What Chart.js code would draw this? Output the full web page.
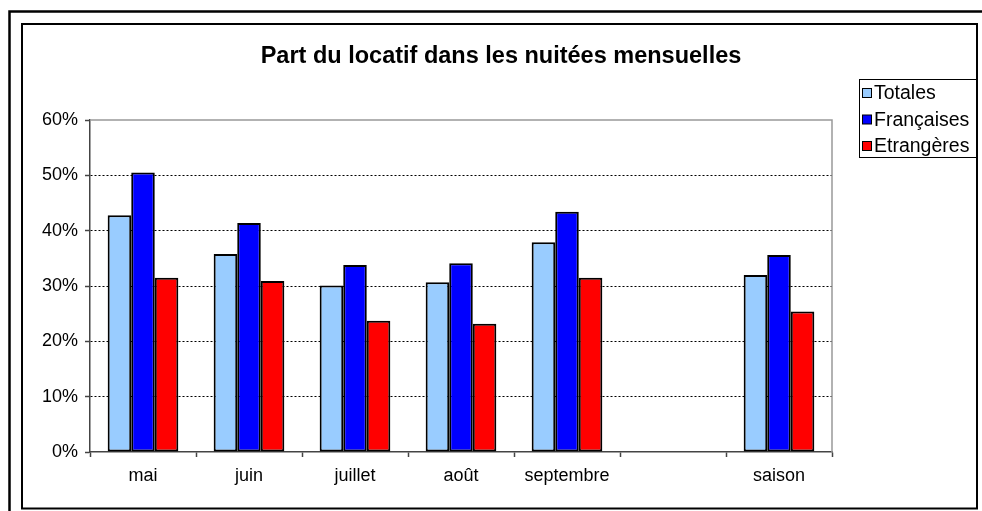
<!DOCTYPE html>
<html>
<head>
<meta charset="utf-8">
<script src="https://cdn.jsdelivr.net/npm/chart.js@4/dist/chart.umd.min.js"></script>
<style>
  body { margin: 0; background: #fff; }
  #wrap { width: 982px; height: 511px; }
</style>
</head>
<body>
<div id="wrap"><canvas id="grafico" width="982" height="511"></canvas></div>
<script>
const titre = "Part du locatif dans les nuitées mensuelles";
const mois = ["mai", "juin", "juillet", "août", "septembre", "", "saison"];
const totales = [42.8, 35.8, 30.1, 30.7, 37.9, null, 32.0];
const francaises = [50.5, 41.4, 33.8, 34.1, 43.4, null, 35.6];
const etrangeres = [31.5, 30.9, 23.7, 23.2, 31.5, null, 25.4];
const graduations = [0, 10, 20, 30, 40, 50, 60];

const police = "'Liberation Sans', Arial, sans-serif";

// cadres, titre et légende façon Excel
const decor = {
  id: 'decor',
  beforeDraw(chart) {
    const ctx = chart.ctx;
    ctx.save();
    ctx.fillStyle = '#fff';
    ctx.fillRect(0, 0, chart.width, chart.height);
    ctx.strokeStyle = '#000';
    ctx.lineWidth = 2.5;
    ctx.strokeRect(9.5, 11.5, 1100, 1100);
    ctx.lineWidth = 2;
    ctx.strokeRect(22, 24, 955, 484.5);
    ctx.restore();
  },
  afterDraw(chart) {
    const ctx = chart.ctx;
    const a = chart.chartArea;
    ctx.save();
    // bord gris du haut et de droite
    ctx.strokeStyle = '#999';
    ctx.lineWidth = 1.5;
    ctx.beginPath();
    ctx.moveTo(a.left, a.top);
    ctx.lineTo(a.right, a.top);
    ctx.lineTo(a.right, a.bottom);
    ctx.stroke();

    // titre
    ctx.fillStyle = '#000';
    ctx.font = "bold 23.5px " + police;
    ctx.textAlign = 'center';
    ctx.textBaseline = 'alphabetic';
    ctx.fillText(titre, 501, 63);

    // légende
    ctx.fillStyle = '#fff';
    ctx.fillRect(859.5, 79.5, 117, 78);
    ctx.strokeStyle = '#000';
    ctx.lineWidth = 1;
    ctx.strokeRect(859.5, 79.5, 117, 78);
    ctx.font = "19.5px " + police;
    ctx.textAlign = 'left';
    ctx.textBaseline = 'middle';
    chart.data.datasets.forEach((ds, i) => {
      const y = 93 + i * 26.5;
      ctx.fillStyle = ds.backgroundColor;
      ctx.fillRect(862.5, y - 4.5, 9, 9);
      ctx.strokeStyle = '#000';
      ctx.strokeRect(862.5, y - 4.5, 9, 9);
      ctx.fillStyle = '#000';
      ctx.fillText(ds.label, 874, y + 1);
    });
    ctx.restore();
  }
};

const ctx = document.getElementById('grafico').getContext('2d');
new Chart(ctx, {
  type: 'bar',
  data: {
    labels: mois,
    datasets: [
      { label: 'Totales', data: totales, backgroundColor: '#99CCFF' },
      { label: 'Françaises', data: francaises, backgroundColor: '#0000FF' },
      { label: 'Etrangères', data: etrangeres, backgroundColor: '#FF0000' }
    ].map(d => Object.assign(d, {
      borderColor: '#000',
      borderWidth: 2,
      borderSkipped: false,
      categoryPercentage: 3 / 4.5,
      barPercentage: 1
    }))
  },
  options: {
    responsive: false,
    animation: false,
    devicePixelRatio: 1,
    layout: { padding: { top: 120, right: 150, left: 0, bottom: 0 } },
    plugins: {
      legend: { display: false },
      title: { display: false },
      tooltip: { enabled: false }
    },
    scales: {
      x: {
        afterFit: s => { s.height = 59; },
        grid: {
          offset: true,
          drawOnChartArea: false,
          drawTicks: true,
          tickLength: 5,
          tickColor: '#444',
          tickWidth: 1.5
        },
        border: { display: true, color: '#444', width: 1.5 },
        ticks: {
          color: '#000',
          padding: 8,
          font: { family: police, size: 18 },
          maxRotation: 0,
          autoSkip: false
        }
      },
      y: {
        min: 0,
        max: 60,
        afterFit: s => { s.width = 90; },
        afterBuildTicks: s => { s.ticks = graduations.map(v => ({ value: v })); },
        grid: {
          color: c => (c.tick && (c.tick.value === 0 || c.tick.value === 60)) ? 'rgba(0,0,0,0)' : '#000',
          lineWidth: 1,
          drawTicks: true,
          tickLength: 5,
          tickColor: '#444',
          tickWidth: 1.5,
          tickBorderDash: []
        },
        border: { display: true, color: '#444', width: 1.5, dash: [2, 2] },
        ticks: {
          color: '#000',
          padding: 7,
          font: { family: police, size: 18 },
          callback: v => v + '%'
        }
      }
    }
  },
  plugins: [decor]
});
</script>
</body>
</html>
